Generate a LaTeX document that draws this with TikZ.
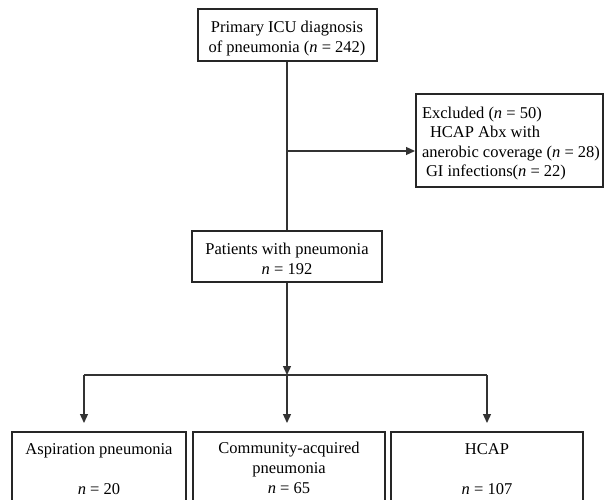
\documentclass[tikz,border=0pt]{standalone}
\usepackage{fontspec}
\setmainfont{Liberation Serif}
\usetikzlibrary{arrows.meta}
\begin{document}
\begin{tikzpicture}[x=1pt,y=-1pt,
 box/.style={draw=black!85, line width=2pt, inner sep=0pt},
 txt/.style={align=center, font=\fontsize{16.5}{20}\selectfont, inner sep=0pt},
 conn/.style={draw=black!80, line width=1.3pt},
 arr/.style={conn, -{Triangle[length=9pt,width=8pt]}}]
\useasboundingbox (0,0) rectangle (608,500);
\clip (0,0) rectangle (608,500);
\node[box, minimum width=179pt, minimum height=52pt] (top) at (287,35) {};
\node[txt] (topt) at (287,38.5) {Primary ICU diagnosis\\of pneumonia (\textit{n} = 242)};
\node[box, minimum width=187pt, minimum height=93pt] (excl) at (509.5,140.5) {};
\node[txt, align=left, font=\fontsize{16.5}{19.5}\selectfont] (exclt) at (511,143.5)
  {Excluded (\textit{n} = 50)\\\hspace*{8pt}HCAP Abx with\\anerobic coverage (\textit{n} = 28)\\\hspace*{4pt}GI infections(\textit{n} = 22)};
\node[box, minimum width=190pt, minimum height=51pt] (pat) at (287,256.5) {};
\node[txt] (patt) at (287,258.5) {Patients with pneumonia\\\textit{n} = 192};
\node[box, anchor=north, minimum width=174pt, minimum height=100pt] (b1) at (99,431) {};
\node[box, anchor=north, minimum width=192pt, minimum height=100pt] (b2) at (289,431) {};
\node[box, anchor=north, minimum width=192pt, minimum height=100pt] (b3) at (487,431) {};
\node[txt, anchor=north] (b1t) at (99,443) {Aspiration pneumonia\\[20pt]\textit{n} = 20};
\node[txt, anchor=north] (b2t) at (289,442) {Community-acquired\\pneumonia\\\textit{n} = 65};
\node[txt, anchor=north] (b3t) at (487,443) {HCAP\\[20pt]\textit{n} = 107};
\coordinate (split) at (287,151);
\coordinate (hub) at (287,375);
\coordinate (hl) at (84,375);
\coordinate (hr) at (487,375);
\draw[conn] (top) -- (pat);
\draw[arr] (split) -- (split -| excl.west);
\draw[arr] (pat.south) -- (hub);
\draw[conn] (hl) -- (hr);
\draw[arr, shorten >=8pt] (hl) -- (hl |- b1.north);
\draw[arr, shorten >=8pt] (hub) -- (hub |- b2.north);
\draw[arr, shorten >=8pt] (hr) -- (hr |- b3.north);
\end{tikzpicture}
\end{document}
